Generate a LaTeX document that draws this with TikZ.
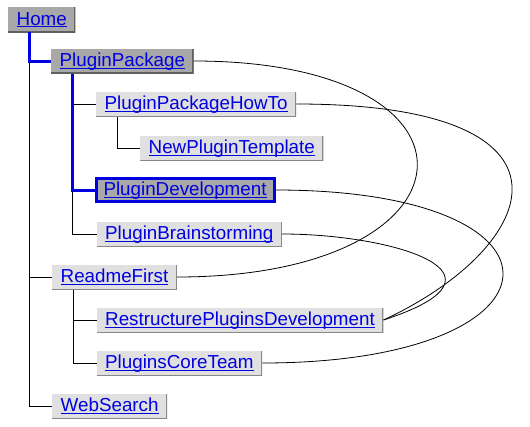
\documentclass[tikz,border=0pt]{standalone}
\usepackage{fontspec}
\setmainfont{Liberation Sans}
\definecolor{linkblue}{RGB}{0,0,224}
\definecolor{lightbox}{RGB}{224,224,224}
\definecolor{darkbox}{RGB}{168,168,168}
\definecolor{edgegray}{RGB}{136,136,136}
\definecolor{edgedark}{RGB}{96,96,96}
\newcommand\lnk[1]{\setbox0=\hbox{#1}\rlap{\rule[-2.4pt]{\wd0}{1.3pt}}\box0}

\begin{document}
\begin{tikzpicture}[
  pg/.style={anchor=west,fill=lightbox,text=linkblue,inner xsep=8.5pt,inner ysep=2.5pt,
    text height=15.5pt,text depth=4.5pt,font=\fontsize{18.8pt}{22pt}\selectfont,
    path picture={\draw[edgegray,line width=2pt] (path picture bounding box.north east)
      |- (path picture bounding box.south west);}},
  sel/.style={pg,fill=darkbox,
    path picture={\draw[edgedark,line width=2.4pt] (path picture bounding box.north east)
      |- (path picture bounding box.south west);}},
  cur/.style={pg,fill=darkbox,draw=linkblue,line width=3pt,inner xsep=7.5pt,inner ysep=1.5pt,
    path picture={}},
  trail/.style={linkblue,line width=3pt}]
\useasboundingbox (0pt,0pt) rectangle (530pt,-426pt);
\node[sel] (home) at (8pt,-19.5pt) {\lnk{Home}};
\node[sel] (pkg) at (51pt,-61pt) {\lnk{PluginPackage}};
\node[pg] (howto) at (96pt,-104pt) {\lnk{PluginPackageHowTo}};
\node[pg] (tmpl) at (140pt,-148pt) {\lnk{NewPluginTemplate}};
\node[cur] (dev) at (94.5pt,-190pt) {\lnk{PluginDevelopment}};
\node[pg] (brain) at (96.5pt,-234pt) {\lnk{PluginBrainstorming}};
\node[pg] (readme) at (52pt,-277pt) {\lnk{ReadmeFirst}};
\node[pg] (restr) at (96.5pt,-320pt) {\lnk{RestructurePluginsDevelopment}};
\node[pg] (core) at (96.5pt,-363pt) {\lnk{PluginsCoreTeam}};
\node[pg] (web) at (52pt,-406pt) {\lnk{WebSearch}};
% tree
\foreach \p/\c in {home/web,home/readme,pkg/brain,pkg/howto,howto/tmpl,readme/core,readme/restr}{
\draw[line width=1pt] (\p.south west)++(21pt,0pt) |- (\c.west);
}
\draw[trail] (home.south west)++(21pt,0pt) |- (pkg.west);
\draw[trail] (pkg.south west)++(21pt,0pt) |- (dev.west);
% links
\draw[line width=0.8pt] (pkg.east) .. controls +(309pt,0pt) and +(309pt,0pt) .. (readme.east);
\draw[line width=0.8pt] (howto.east) .. controls +(300pt,0pt) and +(25:175pt) .. (restr.east);
\draw[line width=0.8pt] (dev.east) .. controls +(312pt,0pt) and +(312pt,0pt) .. (core.east);
\draw[line width=0.8pt] (brain.east) .. controls +(110pt,0pt) and +(18:150pt) .. (restr.east);
\end{tikzpicture}
\end{document}
